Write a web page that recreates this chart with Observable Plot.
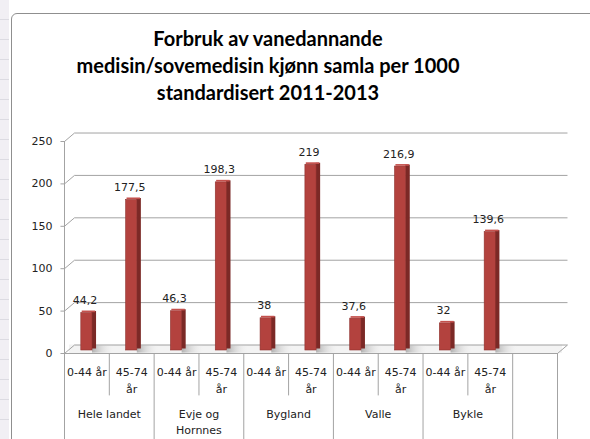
<!DOCTYPE html>
<html><head><meta charset="utf-8">
<script src="https://cdn.jsdelivr.net/npm/d3@7"></script>
<script src="https://cdn.jsdelivr.net/npm/@observablehq/plot@0.6"></script>
<style>
body{margin:0;background:#fff;width:590px;height:439px;overflow:hidden;position:relative;font-family:"DejaVu Sans",sans-serif}
#strip{position:absolute;left:0;top:0;width:9px;height:439px;background:repeating-linear-gradient(#f1eff4 0 19px,#dcdbe2 19px 20px)}
#frame{position:absolute;left:11px;top:13px;width:620px;height:500px;border:1px solid #8f8f8f;border-radius:6px;background:#fff}
#title{position:absolute;left:0;top:25px;width:536px;text-align:center;font:bold 20px Lato,"Open Sans",sans-serif;line-height:27px;color:#000}
#chart{position:absolute;left:0;top:115px}
</style></head>
<body>
<div id="strip"></div><div id="frame"></div>
<div id="title">Forbruk av vanedannande<br>medisin/sovemedisin kjønn samla per 1000<br>standardisert 2011-2013</div>
<div id="chart"></div>
<script>
// ---- data ----
const regions = ["Hele landet", "Evje og\nHornnes", "Bygland", "Valle", "Bykle"];
const ageGroups = ["0-44 år", "45-74\når"];
const values = [44.2, 177.5, 46.3, 198.3, 38, 219, 37.6, 216.9, 32, 139.6];
const valueLabels = ["44,2", "177,5", "46,3", "198,3", "38", "219", "37,6", "216,9", "32", "139,6"];
const yTicks = [0, 50, 100, 150, 200, 250];

// ---- table built from the arrays ----
const rows = values.map((v, i) => ({i, v, label: valueLabels[i], age: ageGroups[i % 2], region: regions[Math.floor(i / 2)]}));
const regionRows = regions.map((r, k) => ({r, x: k * 2 + 0.5}));
const nSlots = values.length + 1;               // one empty slot at the end
const fullLines = [...regions.map((_, k) => k * 2), values.length, nSlots].map(k => k - 0.5);
const shortLines = rows.filter(d => d.i % 2 === 1).map(d => d.i - 0.5);

// ---- 3D look (data units) ----
const DX = 0.223, DY = 10, HW = 0.125, SIDE = 0.09, TICK = 0.09;
const TABLE_MID = -50, TABLE_BOTTOM = -102;
const grid = "#a3a3a3";

const chart = Plot.plot({
  width: 590, height: 324,
  marginLeft: 64, marginRight: 33, marginTop: 26, marginBottom: 86,
  style: {fontFamily: "DejaVu Sans, sans-serif", fontSize: "11px", color: "#222", background: "transparent"},
  x: {domain: [-0.5, nSlots - 0.5], axis: null},
  y: {domain: [0, 250], ticks: 5, tickSize: 0, tickPadding: 12, label: null},
  marks: [
    // floor band
    Plot.rect([0], {x1: -0.5 + DX / 2, x2: nSlots - 0.5 + DX / 2, y1: 0, y2: DY, fill: "#f3f3f3"}),
    // left wall diagonals + back wall gridlines
    Plot.link(yTicks, {x1: -0.5, y1: d => d, x2: -0.5 + DX, y2: d => d + DY, stroke: grid}),
    Plot.link(yTicks, {x1: -0.5 + DX, x2: nSlots - 0.5 + DX, y1: d => d + DY, y2: d => d + DY, stroke: grid}),
    // y tick marks and front edge
    Plot.link(yTicks, {x1: -0.5 - TICK, x2: -0.5, y1: d => d, y2: d => d, stroke: grid}),
    Plot.ruleX([-0.5], {y1: 0, y2: 250, stroke: grid}),
    // bar shadows on the floor
    Plot.rect(rows, {x1: d => d.i + HW, x2: d => d.i + HW + 0.5, y1: 0.5, y2: DY - 1, fill: "url(#shade)"}),
    Plot.ruleY([0], {x1: -0.5, x2: nSlots - 0.5, stroke: grid}),
    Plot.link([0], {x1: nSlots - 0.5, y1: 0, x2: nSlots - 0.5 + DX, y2: DY, stroke: grid}),
    // bars: side face, front face, top cap
    Plot.rect(rows, {x1: d => d.i + HW - 0.01, x2: d => d.i + HW + SIDE, y1: 0, y2: "v", dy: -4.5, fill: "#7b2926"}),
    Plot.rect(rows, {x1: d => d.i - HW, x2: d => d.i + HW, y1: 0, y2: "v", dy: -3, fill: "#b3423e", stroke: "#8e312e", strokeWidth: 0.6}),
    Plot.rect(rows, {x1: d => d.i - HW + 0.02, x2: d => d.i + HW + SIDE - 0.02, y1: d => d.v - 2, y2: "v", dy: -5, fill: "#c4514d"}),
    // value labels
    Plot.text(rows, {x: "i", y: "v", text: "label", dy: -15.5, dx: -2, fill: "#222"}),
    // category table
    Plot.ruleX(fullLines, {y1: 0, y2: TABLE_BOTTOM, stroke: grid}),
    Plot.ruleX(shortLines, {y1: 0, y2: TABLE_MID, stroke: grid}),
    Plot.text(rows, {x: "i", y: 0, text: "age", lineAnchor: "top", lineHeight: 1.5, dy: 11, fill: "#222"}),
    Plot.text(regionRows, {x: "x", y: 0, text: "r", lineAnchor: "top", lineHeight: 1.45, dy: 53, fill: "#222"})
  ]
});
const defs = document.createElementNS("http://www.w3.org/2000/svg", "defs");
defs.innerHTML = '<linearGradient id="shade" x1="0" y1="0" x2="1" y2="0"><stop offset="0" stop-color="#9a9a9a" stop-opacity="0.75"/><stop offset="1" stop-color="#f3f3f3" stop-opacity="0"/></linearGradient>';
chart.prepend(defs);
document.getElementById("chart").append(chart);
</script>
</body></html>
